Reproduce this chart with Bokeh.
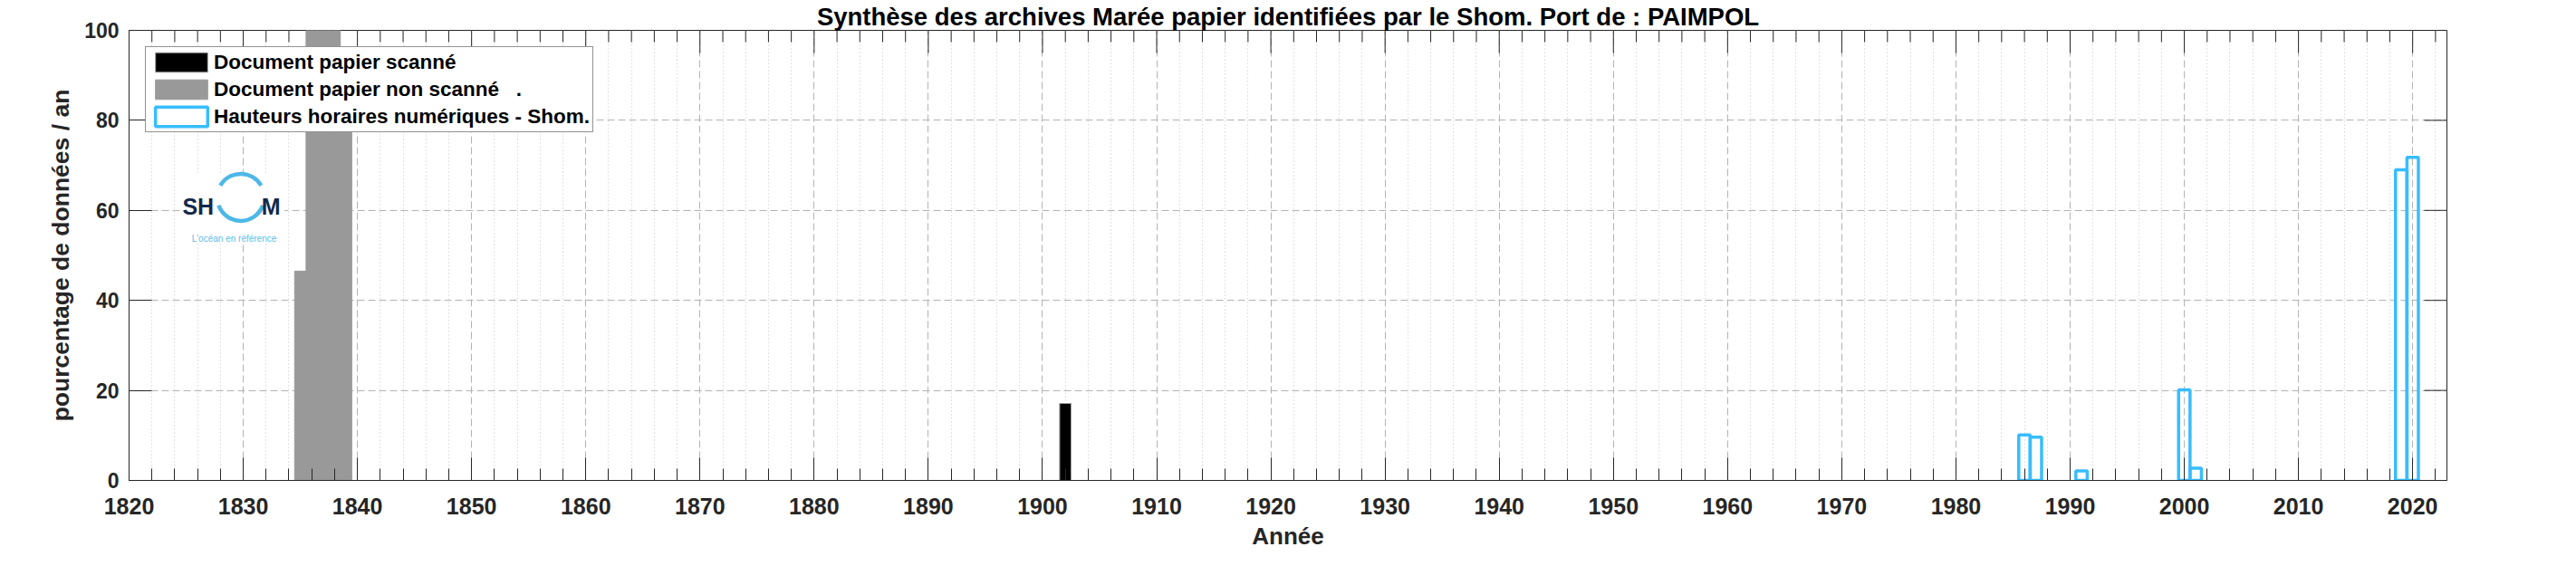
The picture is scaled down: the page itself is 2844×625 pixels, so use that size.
from bokeh.plotting import figure
from bokeh.models import (SingleIntervalTicker, FixedTicker, Range1d, Legend,
                          LegendItem, Grid)
from bokeh.core.properties import value
from bokeh.embed import file_html
from bokeh.resources import INLINE
import numpy as np

# ---- data ----
title_text = "Synthèse des archives Marée papier identifiées par le Shom. Port de : PAIMPOL"
x_label = "Année"
y_label = "pourcentage de données / an"

black_years = [1902]
black_pct = [17.1]

gray_years = [1835, 1836, 1837, 1838, 1839]
gray_pct = [46.5, 100, 100, 100, 88]

blue_years = [1986, 1987, 1991, 2000, 2001, 2019, 2020]
blue_pct = [10.1, 9.6, 2.1, 20.1, 2.7, 69.0, 71.8]

legend_labels = ["Document papier scanné",
                 "Document papier non scanné   .",
                 "Hauteurs horaires numériques - Shom."]

X_START, X_END = 1820, 2023
Y_START, Y_END = 0, 100
X_MAJOR, X_MINOR, Y_MAJOR = 10, 2, 20

FONT = "Liberation Sans"
AXC = "#262626"
BLUE = "#38bdff"

p = figure(width=2844, height=625, x_range=Range1d(X_START, X_END),
           y_range=Range1d(Y_START, Y_END), output_backend="svg",
           toolbar_location=None, min_border_left=142, min_border_right=143,
           min_border_top=31, min_border_bottom=95)
p.outline_line_color = AXC
p.outline_line_width = 1
p.background_fill_color = "white"
p.border_fill_color = "white"

# title
p.title.text = title_text
p.title.align = "center"
p.title.text_font = FONT
p.title.text_font_style = "bold"
p.title.text_font_size = "27.5px"
p.title.text_color = "black"
p.title.standoff = 0


def style_axis(ax, font_size):
    ax.axis_line_color = AXC
    ax.major_tick_line_color = AXC
    ax.minor_tick_line_color = AXC
    ax.major_tick_in = 25
    ax.major_tick_out = 0
    ax.minor_tick_in = 13
    ax.minor_tick_out = 0
    ax.major_label_text_font = FONT
    ax.major_label_text_font_style = "bold"
    ax.major_label_text_color = AXC
    ax.major_label_text_font_size = font_size


xa = p.xaxis[0]
xa.ticker = SingleIntervalTicker(interval=X_MAJOR, num_minor_ticks=X_MAJOR // X_MINOR)
style_axis(xa, "25px")
xa.major_label_standoff = 19
xa.axis_label = x_label
xa.axis_label_text_font = FONT
xa.axis_label_text_font_style = "bold"
xa.axis_label_text_font_size = "26px"
xa.axis_label_text_color = AXC
xa.axis_label_standoff = 6

ya = p.yaxis[0]
ya.ticker = SingleIntervalTicker(interval=Y_MAJOR, num_minor_ticks=0)
style_axis(ya, "23px")
ya.minor_tick_line_color = None
ya.major_label_standoff = 11
ya.axis_label = y_label
ya.axis_label_text_font = FONT
ya.axis_label_text_font_style = "bold"
ya.axis_label_text_font_size = "26.5px"
ya.axis_label_text_color = AXC
ya.axis_label_standoff = 8

# ticks on the top and right sides of the box (MATLAB "box on"), drawn inward
top_major = np.arange(X_START, X_END + 1, X_MAJOR)
top_minor = np.array([t for t in range(X_START, X_END + 1, X_MINOR) if t % X_MAJOR])
right_major = np.arange(Y_START, Y_END + 1, Y_MAJOR)
p.ray(x=top_major, y=np.full(len(top_major), Y_END), length=25, length_units="screen",
      angle=-np.pi / 2, line_color=AXC, line_width=1)
p.ray(x=top_minor, y=np.full(len(top_minor), Y_END), length=13, length_units="screen",
      angle=-np.pi / 2, line_color=AXC, line_width=1)
p.ray(x=np.full(len(right_major), X_END), y=right_major, length=25, length_units="screen",
      angle=np.pi, line_color=AXC, line_width=1)

# grids
p.xgrid.ticker = SingleIntervalTicker(interval=X_MAJOR, num_minor_ticks=0)
p.xgrid.grid_line_color = "#b3b3b3"
p.xgrid.grid_line_dash = "8 4"
p.ygrid.ticker = SingleIntervalTicker(interval=Y_MAJOR, num_minor_ticks=0)
p.ygrid.grid_line_color = "#b3b3b3"
p.ygrid.grid_line_dash = "8 4"
mgrid = Grid(dimension=0, ticker=FixedTicker(ticks=list(top_minor)),
             grid_line_color="#c4c4c4", grid_line_dash="1 3", level="underlay")
p.add_layout(mgrid)

# Shom logo (decoration)
LOGO_BOX = (1824.5, 1833.6, 53.0, 68.2)
LOGO_CX, LOGO_CY = 1829.78, 62.9
p.quad(left=[LOGO_BOX[0]], right=[LOGO_BOX[1]], bottom=[LOGO_BOX[2]], top=[LOGO_BOX[3]],
       fill_color="white", line_color=None)
p.arc(x=[LOGO_CX], y=[LOGO_CY], radius=26, radius_units="screen",
      start_angle=0.52, end_angle=2.62, line_color="#4db8e8", line_width=4.5)
p.arc(x=[LOGO_CX], y=[LOGO_CY], radius=26, radius_units="screen",
      start_angle=3.49, end_angle=5.93, line_color="#4db8e8", line_width=4.5)
p.text(x=[1826.05, 1832.42], y=[60.8, 60.8], text=["SH", "M"],
       text_font=value(FONT), text_font_style="bold", text_font_size=value("25px"),
       text_color="#13294b", text_align="center", text_baseline="alphabetic")
p.text(x=[1829.2], y=[53.8], text=["L'océan en référence"],
       text_font=value(FONT), text_font_size=value("10px"),
       text_color="#5bc0eb", text_align="center", text_baseline="alphabetic")

# bars
r_gray = p.vbar(x=gray_years, top=gray_pct, width=1, bottom=0,
                fill_color="#999999", line_color="#999999", line_width=1)
r_black = p.vbar(x=black_years, top=black_pct, width=1, bottom=0,
                 fill_color="black", line_color="#a0a0a0", line_width=1)
r_blue = p.vbar(x=blue_years, top=blue_pct, width=1, bottom=0,
                fill_alpha=0, line_color=BLUE, line_width=3.5)

legend = Legend(items=[LegendItem(label=legend_labels[0], renderers=[r_black]),
                       LegendItem(label=legend_labels[1], renderers=[r_gray]),
                       LegendItem(label=legend_labels[2], renderers=[r_blue])],
                location="top_left", margin=18, padding=3, spacing=3,
                glyph_width=72, glyph_height=27, label_standoff=0,
                label_text_font=FONT, label_text_font_style="bold",
                label_text_font_size="22.5px", label_text_color="black",
                border_line_color=AXC, border_line_width=1,
                background_fill_color="white", background_fill_alpha=1)
p.add_layout(legend)

open("out.html", "w").write(file_html(p, INLINE))
